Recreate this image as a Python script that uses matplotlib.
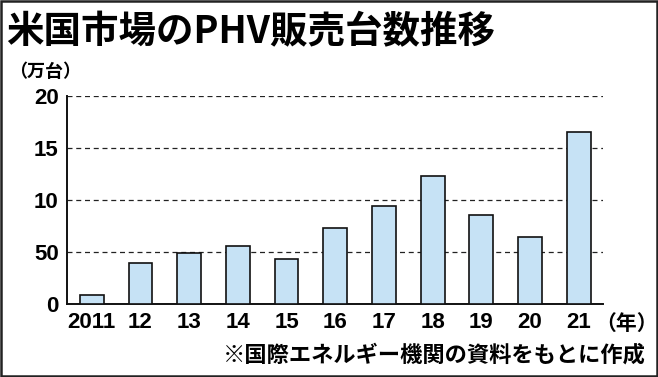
import matplotlib
matplotlib.use("Agg")
import matplotlib.pyplot as plt
from matplotlib.patches import Rectangle

plt.rcParams['font.family'] = ['Noto Sans CJK JP', 'DejaVu Sans']
num_font = ['Liberation Sans', 'DejaVu Sans']

# data (万台)
years = ["2011", "12", "13", "14", "15", "16", "17", "18", "19", "20", "21"]
sales = [0.85, 3.9, 4.9, 5.55, 4.3, 7.3, 9.4, 12.3, 8.55, 6.4, 16.5]
yticks = [0, 5, 10, 15, 20]
ytick_labels = ["0", "50", "10", "15", "20"]

fig = plt.figure(figsize=(6.58, 3.77), dpi=100)
ax = fig.add_axes([0.1018, 0.1936, 0.8146, 0.5518])

x = list(range(len(years)))
ax.bar(x, sales, width=0.49, color='#c6e2f5', edgecolor='#111111', linewidth=1.2, zorder=3)

ax.set_xlim(-0.51, 10.5)
ax.set_ylim(0, 20)
ax.set_yticks(yticks)
ax.set_yticklabels(ytick_labels, fontsize=16, fontweight='bold', family=num_font)
ax.set_xticks(x)
ax.set_xticklabels(years, fontsize=16, fontweight='bold', family=num_font)
ax.tick_params(length=0, pad=6)
ax.yaxis.grid(True, linestyle=(0, (4, 3)), color='#222222', linewidth=0.9)
ax.set_axisbelow(True)
for s in ['top', 'right']:
    ax.spines[s].set_visible(False)
for s in ['left', 'bottom']:
    ax.spines[s].set_linewidth(1.4)
    ax.spines[s].set_color('#111111')

fig.text(0.01, 0.915, "米国市場のPHV販売台数推移", fontsize=27, fontweight='bold', va='center', ha='left')
fig.text(0.014, 0.81, "（万台）", fontsize=13, fontweight='bold', va='center', ha='left')
fig.text(0.905, 0.143, "（年）", fontsize=15, fontweight='bold', va='center', ha='left')
fig.text(0.982, 0.058, "※国際エネルギー機関の資料をもとに作成", fontsize=16, fontweight='bold',
         va='center', ha='right')

fig.patches.append(Rectangle((0.002, 0.003), 0.996, 0.994, transform=fig.transFigure,
                             fill=False, edgecolor='#222222', linewidth=1.8))

fig.savefig("out.png", dpi=100)
